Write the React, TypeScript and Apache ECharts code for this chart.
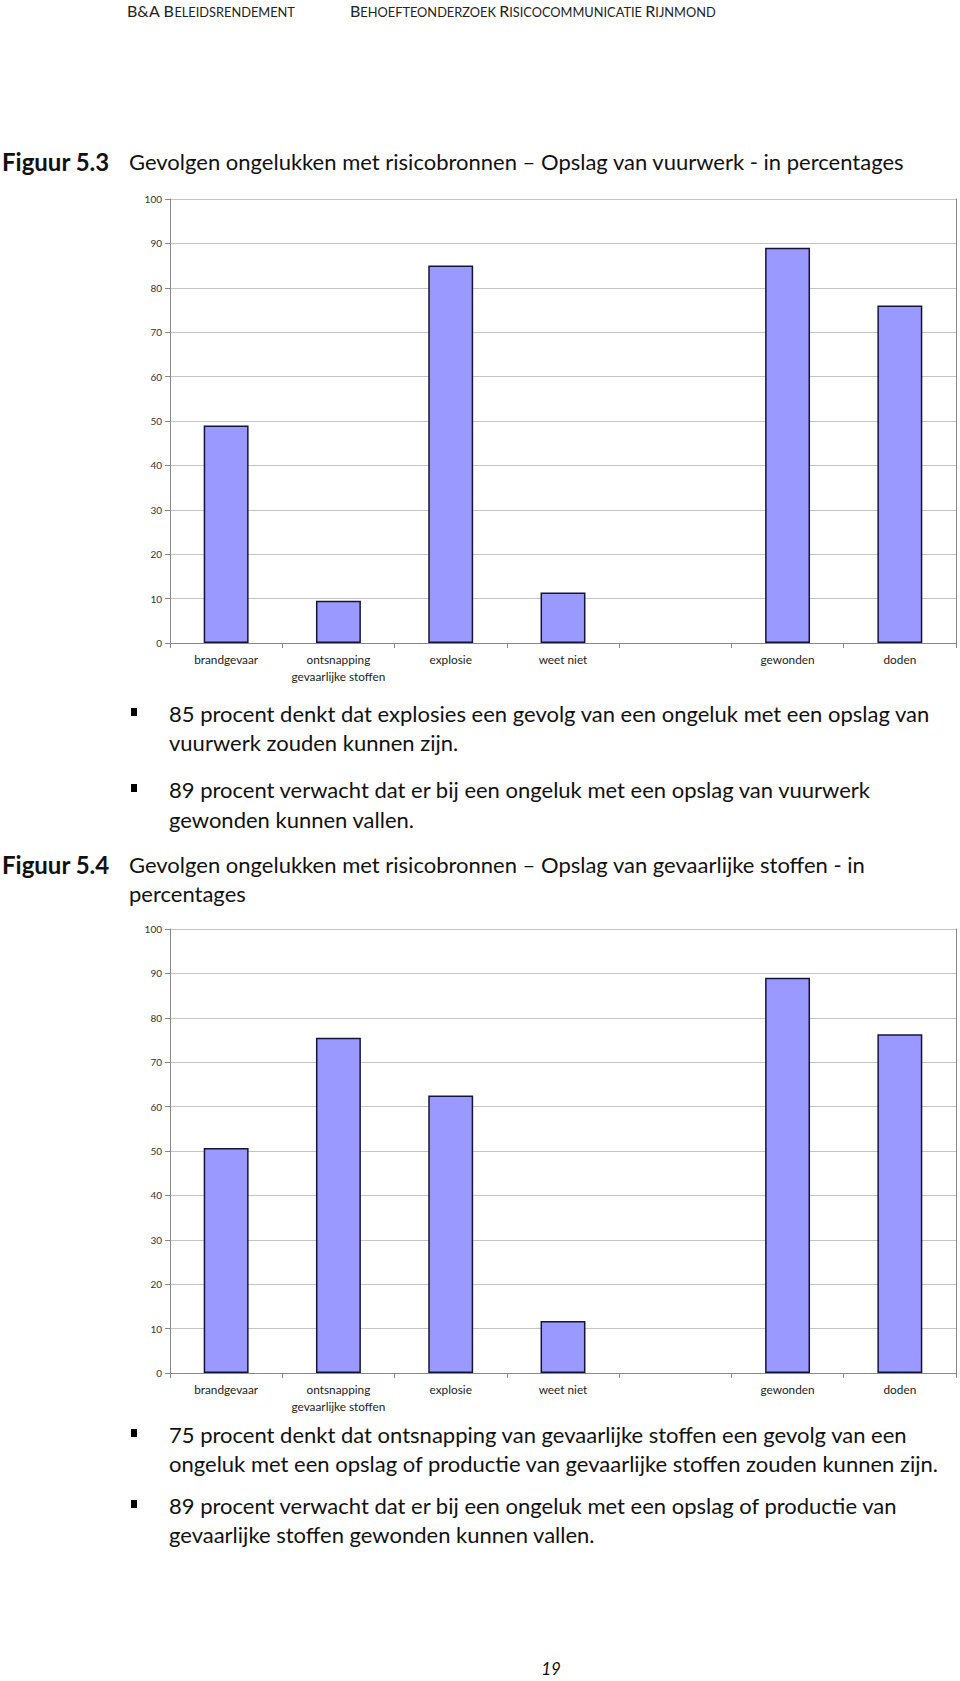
import React, { useEffect, useRef } from "react";
import * as echarts from "echarts";

const categories = [
  "brandgevaar",
  "ontsnapping\ngevaarlijke stoffen",
  "explosie",
  "weet niet",
  "",
  "gewonden",
  "doden",
];
const vuurwerkValues = [49, 9.5, 85, 11.4, null, 89, 76];
const stoffenValues = [50.7, 75.5, 62.5, 11.7, null, 89, 76.3];
const yMin = 0;
const yMax = 100;
const yInterval = 10;

const headerLeft = "{a|B&A B}{b|ELEIDSRENDEMENT}";
const headerRight = "{a|B}{b|EHOEFTEONDERZOEK} {a|R}{b|ISICOCOMMUNICATIE} {a|R}{b|IJNMOND}";
const fig1Label = "Figuur 5.3";
const fig1Title = "Gevolgen ongelukken met risicobronnen – Opslag van vuurwerk - in percentages";
const fig2Label = "Figuur 5.4";
const fig2TitleLines = [
  "Gevolgen ongelukken met risicobronnen – Opslag van gevaarlijke stoffen - in",
  "percentages",
];
const bullets1 = [
  ["85 procent denkt dat explosies een gevolg van een ongeluk met een opslag van", "vuurwerk zouden kunnen zijn."],
  ["89 procent verwacht dat er bij een ongeluk met een opslag van vuurwerk", "gewonden kunnen vallen."],
];
const bullets2 = [
  ["75 procent denkt dat ontsnapping van gevaarlijke stoffen een gevolg van een", "ongeluk met een opslag of productie van gevaarlijke stoffen zouden kunnen zijn."],
  ["89 procent verwacht dat er bij een ongeluk met een opslag of productie van", "gevaarlijke stoffen gewonden kunnen vallen."],
];
const pageNumber = "19";

const FONT = "Lato, 'Noto Sans', sans-serif";

export default function App() {
  const ref = useRef<HTMLDivElement>(null);
  useEffect(() => {
    if (!ref.current) return;
    const chart = echarts.init(ref.current, undefined, { renderer: "svg" });

    const bodySize = 22;
    const textEl = (text: string, x: number, y: number, opts: any = {}) => ({
      type: "text",
      x,
      y,
      style: {
        text,
        fontFamily: FONT,
        fontSize: bodySize,
        fill: "#111",
        verticalAlign: "middle",
        ...opts,
      },
    });

    const graphics: any[] = [];
    const headerRich = {
      a: { fontFamily: FONT, fontSize: 16, lineHeight: 16, verticalAlign: "bottom", fill: "#222" },
      b: { fontFamily: FONT, fontSize: 12.8, lineHeight: 13, verticalAlign: "bottom", fill: "#222" },
    };
    graphics.push({
      type: "text",
      x: 127,
      y: 10,
      style: { text: headerLeft, rich: headerRich, verticalAlign: "middle", fill: "#222" },
    });
    graphics.push({
      type: "text",
      x: 350,
      y: 10,
      style: { text: headerRight, rich: headerRich, verticalAlign: "middle", fill: "#222" },
    });

    graphics.push(textEl(fig1Label, 2, 161, { fontWeight: "bold", fontSize: 24 }));
    graphics.push(textEl(fig1Title, 129, 161, { fontSize: 22 }));

    const bulletBlock = (lines: string[][], ys: number[][]) => {
      lines.forEach((pair, i) => {
        graphics.push({
          type: "rect",
          shape: { x: 131, y: ys[i][0] - 5, width: 6, height: 8 },
          style: { fill: "#000" },
        });
        pair.forEach((ln, j) => graphics.push(textEl(ln, 169, ys[i][j])));
      });
    };
    bulletBlock(bullets1, [[713, 742], [789, 819]]);

    graphics.push(textEl(fig2Label, 2, 864, { fontWeight: "bold", fontSize: 24 }));
    graphics.push(textEl(fig2TitleLines[0], 129, 864, { fontSize: 22 }));
    graphics.push(textEl(fig2TitleLines[1], 129, 893, { fontSize: 22 }));

    bulletBlock(bullets2, [[1434, 1463], [1505, 1534]]);

    graphics.push(textEl(pageNumber, 551, 1668, { fontStyle: "italic", fontSize: 17, align: "center" }));

    const xAxisBase = (gridIndex: number) => ({
      type: "category",
      gridIndex,
      data: categories,
      axisLine: { show: true, lineStyle: { color: "#888", width: 1 } },
      axisTick: { show: true, length: 5, lineStyle: { color: "#888" } },
      axisLabel: {
        interval: 0,
        fontFamily: FONT,
        fontSize: 11.8,
        lineHeight: 17,
        color: "#222",
        margin: 8,
      },
      splitLine: { show: false },
    });
    const yLeft = (gridIndex: number) => ({
      type: "value",
      gridIndex,
      min: yMin,
      max: yMax,
      interval: yInterval,
      axisLine: { show: true, lineStyle: { color: "#888", width: 1 } },
      axisTick: { show: true, length: 5, lineStyle: { color: "#888" } },
      axisLabel: { fontFamily: FONT, fontSize: 10, color: "#333", margin: 8 },
      splitLine: { show: true, lineStyle: { color: "#c4c4c4", width: 1 } },
    });
    const yRight = (gridIndex: number) => ({
      type: "value",
      gridIndex,
      position: "right",
      min: yMin,
      max: yMax,
      interval: yInterval,
      axisLine: { show: true, lineStyle: { color: "#888", width: 1 } },
      axisTick: { show: false },
      axisLabel: { show: false },
      splitLine: { show: false },
    });

    const barStyle = {
      color: "#9999ff",
      borderColor: "#14143a",
      borderWidth: 1.5,
    };

    chart.setOption({
      animation: false,
      backgroundColor: "#fff",
      grid: [
        { left: 170, top: 199, width: 786, height: 444 },
        { left: 170, top: 929, width: 786, height: 444 },
      ],
      xAxis: [xAxisBase(0), xAxisBase(1)],
      yAxis: [yLeft(0), yRight(0), yLeft(1), yRight(1)],
      series: [
        {
          type: "bar",
          xAxisIndex: 0,
          yAxisIndex: 0,
          data: vuurwerkValues,
          barWidth: "40%",
          itemStyle: barStyle,
        },
        {
          type: "bar",
          xAxisIndex: 1,
          yAxisIndex: 2,
          data: stoffenValues,
          barWidth: "40%",
          itemStyle: barStyle,
        },
      ],
      graphic: graphics,
    });
    return () => chart.dispose();
  }, []);
  return (
    <div
      ref={ref}
      style={{ position: "absolute", left: 0, top: 0, width: 960, height: 1681, background: "#fff" }}
    />
  );
}
